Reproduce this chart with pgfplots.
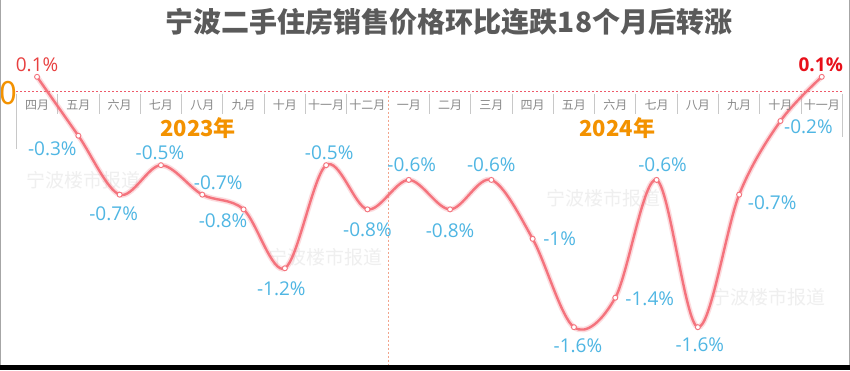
\documentclass[border=0pt]{standalone}
\usepackage{pgfplots}
\pgfplotsset{compat=1.18}
\usepackage{pgfplotstable}
\usepackage{fontspec}
\setmainfont{Open Sans}
\newfontfamily\cjk{Noto Sans CJK SC}
\definecolor{linec}{HTML}{F4737D}
\definecolor{lblue}{HTML}{4FB6E3}
\definecolor{lred}{HTML}{E84040}
\definecolor{dred}{HTML}{E8101A}
\definecolor{orng}{HTML}{F39200}
\definecolor{monthc}{HTML}{888888}
\definecolor{sepc}{HTML}{C8C8C8}
\definecolor{titlec}{HTML}{5A5A5A}
\definecolor{wmc}{HTML}{EFEFEF}
\definecolor{zeroc}{HTML}{EE5A6A}
\definecolor{dashc}{HTML}{F2A48C}

\pgfplotstableread{
x y dx dy
0 0.1 0 12
1 -0.3 -26 -13
2 -0.7 -6 -19
3 -0.5 -1 12.5
4 -0.7 16 12
5 -0.8 -20.5 -11
6 -1.2 -3.5 -20
7 -0.5 3 12.5
8 -0.8 0 -20
9 -0.6 3 15
10 -0.8 0 -21
11 -0.6 0 15
12 -1 27 0
13 -1.6 4 -18.5
14 -1.4 34.5 -1
15 -0.6 6 15.5
16 -1.6 2 -18
17 -0.7 33 -8
18 -0.2 28 -5.5
19 0.1 -1 12
}\datatab

\pgfplotstableread{
x m
0 四月
1 五月
2 六月
3 七月
4 八月
5 九月
6 十月
7 十一月
8 十二月
9 一月
10 二月
11 三月
12 四月
13 五月
14 六月
15 七月
16 八月
17 九月
18 十月
19 十一月
}\months

\begin{document}
\begin{tikzpicture}
\path[use as bounding box] (0,0) rectangle (850pt,370pt);
\fill[white] (0,0) rectangle (850pt,370pt);
% watermarks
\begin{scope}[every node/.style={font=\cjk\fontsize{19}{19}\selectfont, text=wmc}]
\node at (83pt,190pt) {宁波楼市报道};
\node at (325pt,113pt) {宁波楼市报道};
\node at (603pt,172pt) {宁波楼市报道};
\node at (768pt,73pt) {宁波楼市报道};
\end{scope}
% title
\node[font=\cjk\bfseries\fontsize{28}{28}\selectfont, text=titlec] at (449pt,348pt) {宁波二手住房销售价格环比连跌18个月后转涨};
% zero label
\node[font=\cjk\fontsize{32}{32}\selectfont, text=orng] at (8pt,277pt) {0};

\begin{axis}[
  at={(16.4pt,6pt)}, anchor=south west,
  scale only axis, width=826pt, height=324pt,
  xmin=-0.5, xmax=19.5, ymin=-1.85, ymax=0.35,
  axis lines=none, clip=false,
  xtick=\empty, ytick=\empty,
]
% separators
\draw[sepc, line width=1pt]
  (axis cs:0.5,-0.014) -- (axis cs:0.5,-0.15)
  (axis cs:1.5,-0.014) -- (axis cs:1.5,-0.15)
  (axis cs:2.5,-0.014) -- (axis cs:2.5,-0.15)
  (axis cs:3.5,-0.014) -- (axis cs:3.5,-0.15)
  (axis cs:4.5,-0.014) -- (axis cs:4.5,-0.15)
  (axis cs:5.5,-0.014) -- (axis cs:5.5,-0.15)
  (axis cs:6.5,-0.014) -- (axis cs:6.5,-0.15)
  (axis cs:7.5,-0.014) -- (axis cs:7.5,-0.15)
  (axis cs:9.5,-0.014) -- (axis cs:9.5,-0.15)
  (axis cs:10.5,-0.014) -- (axis cs:10.5,-0.15)
  (axis cs:11.5,-0.014) -- (axis cs:11.5,-0.15)
  (axis cs:12.5,-0.014) -- (axis cs:12.5,-0.15)
  (axis cs:13.5,-0.014) -- (axis cs:13.5,-0.15)
  (axis cs:14.5,-0.014) -- (axis cs:14.5,-0.15)
  (axis cs:15.5,-0.014) -- (axis cs:15.5,-0.15)
  (axis cs:16.5,-0.014) -- (axis cs:16.5,-0.15)
  (axis cs:17.5,-0.014) -- (axis cs:17.5,-0.15)
  (axis cs:18.5,-0.014) -- (axis cs:18.5,-0.15)
  (axis cs:-0.5,-0.014) -- (axis cs:-0.5,-0.39)
  (axis cs:19.5,-0.014) -- (axis cs:19.5,-0.31);
\draw[dashc, line width=0.9pt, dash pattern=on 2pt off 2pt] (axis cs:8.5,0) -- (axis cs:8.5,-1.85);
\draw[zeroc, line width=1.5pt, dash pattern=on 2pt off 2pt] (axis cs:-0.5,0) -- (axis cs:19.5,0);

% month labels
\addplot[draw=none, mark=none, point meta=explicit symbolic, nodes near coords,
  every node near coord/.append style={anchor=center, yshift=-13.5pt, font=\cjk\fontsize{12}{12}\selectfont, text=monthc}]
  table[x=x, y expr=0, meta=m] \months;

% year labels
\node[font=\cjk\bfseries\fontsize{22}{22}\selectfont, text=orng] at (axis cs:3.9,0) [yshift=-36.5pt] {2023年};
\node[font=\cjk\bfseries\fontsize{22}{22}\selectfont, text=orng] at (axis cs:14.05,0) [yshift=-36.5pt] {2024年};

% glow
\addplot[linec, opacity=0.25, line width=5.5pt, smooth, tension=0.55, mark=none, forget plot] table[x=x,y=y] \datatab;
% main line
\addplot[linec, line width=2.4pt, smooth, tension=0.55, mark=*, mark size=2.5pt,
  mark options={fill=white, draw=linec, line width=0.9pt, solid}] table[x=x,y=y] \datatab;

% blue value labels
\addplot[draw=none, mark=none, point meta=y,
  skip coords between index={0}{1}, skip coords between index={19}{20},
  visualization depends on={\thisrow{dx}\as\ddx},
  visualization depends on={\thisrow{dy}\as\ddy},
  nodes near coords={\pgfmathprintnumber[assume math mode=true]{\pgfplotspointmeta}\%},
  every node near coord/.append style={anchor=center, xshift=\ddx pt, yshift=\ddy pt, text=lblue, font=\fontsize{19}{19}\selectfont, inner sep=0pt}]
  table[x=x,y=y] \datatab;

% red labels
\addplot[draw=none, mark=none, nodes near coords={0.1\%},
  every node near coord/.append style={anchor=center, yshift=12pt, text=lred, font=\fontsize{19}{19}\selectfont, inner sep=0pt}]
  coordinates {(0,0.1)};
\addplot[draw=none, mark=none, nodes near coords={0.1\%},
  every node near coord/.append style={anchor=center, xshift=-1pt, yshift=12pt, text=dred, font=\bfseries\fontsize{19}{19}\selectfont, inner sep=0pt}]
  coordinates {(19,0.1)};
\end{axis}
% frame
\fill[black] (0,0) rectangle (850pt,5pt);
\draw[gray!70, line width=1.2pt] (0.6pt,5pt) -- (0.6pt,370pt);
\draw[gray!70, line width=1.2pt] (849.4pt,5pt) -- (849.4pt,370pt);
\end{tikzpicture}
\end{document}
